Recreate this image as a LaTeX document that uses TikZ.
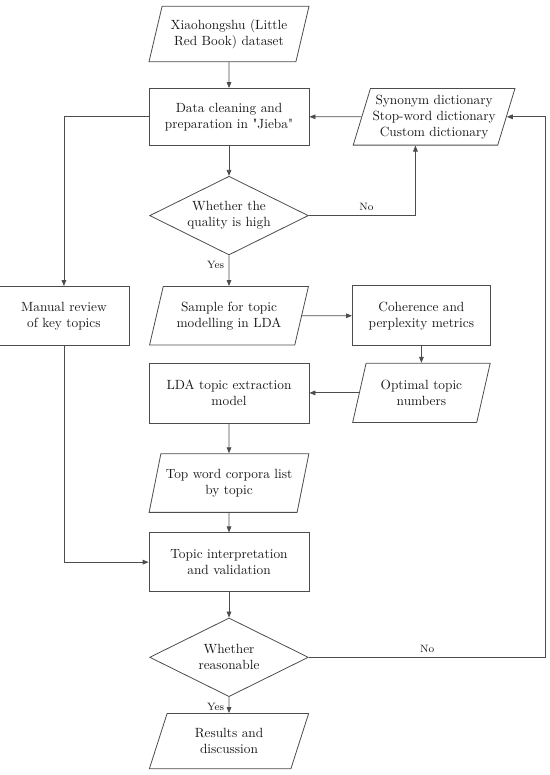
\documentclass[tikz,border=0pt]{standalone}
\usetikzlibrary{arrows.meta,positioning,shapes.geometric}
\newcommand{\dq}{\XeTeXglyph\XeTeXcharglyph"22\relax}

\begin{document}
\begin{tikzpicture}[
  node distance=20pt,
  line/.style={draw=black!70, line width=0.6pt},
  box/.style={line, rectangle, align=center, text=black!90, minimum width=120pt, minimum height=44pt, inner sep=2pt},
  iobox/.style={line, trapezium, trapezium left angle=70, trapezium right angle=110, trapezium stretches=true, align=center, text=black!90, minimum width=120pt, minimum height=44pt, inner sep=1pt},
  decision/.style={line, diamond, aspect=2, align=center, text=black!90, inner sep=0pt, minimum width=119pt, minimum height=59pt},
  lab/.style={font=\footnotesize, text=black!90},
  >={Triangle[length=4.5pt,width=3.5pt]}
]
  \useasboundingbox (0,0) rectangle (412.5pt,-581.25pt);

  % main column
  \node[iobox, minimum height=41.5pt] (source) at (171.75pt,-25.5pt) {Xiaohongshu (Little\\ Red Book) dataset};
  \node[box, minimum height=42.5pt, below=19.5pt of source] (clean) {Data cleaning and\\ preparation in \dq Jieba\dq};
  \node[decision, below=22.75pt of clean] (quality) {Whether the\\ quality is high};
  \node[iobox, below=23pt of quality] (sample) {Sample for topic\\ modelling in LDA};
  \node[box, minimum height=45pt, below=13pt of sample] (lda) {LDA topic extraction\\ model};
  \node[iobox, below=22.25pt of lda] (words) {Top word corpora list\\ by topic};
  \node[box, below=14.75pt of words] (interp) {Topic interpretation\\ and validation};
  \node[decision, below=19.25pt of interp] (reason) {Whether\\ reasonable};
  \node[iobox, minimum height=41.5pt, below=12pt of reason] (results) {Results and\\ discussion};

  % side nodes
  \node[iobox, minimum width=121.5pt, minimum height=42.5pt, right=39pt of clean] (dict) {Synonym dictionary\\ Stop-word dictionary\\ Custom dictionary};
  \node[box, minimum width=97.5pt, left=20pt of sample] (manual) {Manual review\\ of key topics};
  \node[box, minimum width=103.5pt, minimum height=45pt, right=37.5pt of sample] (metrics) {Coherence and\\ perplexity metrics};
  \node[iobox, minimum width=103.5pt, minimum height=44.5pt, below=12.5pt of metrics] (optimal) {Optimal topic\\ numbers};
  \coordinate[right=29.25pt of dict.east] (turn);

  \draw[line, ->] (source) -- (clean);
  \draw[line, ->] (dict) -- (clean);
  \draw[line, ->] (clean) -- (quality);
  \draw[line, ->] (quality.east) -| node[lab, pos=0.27, above]{No} ([xshift=-14pt]dict.south);
  \draw[line, ->] (quality) -- node[lab, pos=0.3, left]{Yes} (sample);
  \draw[line, ->] (clean.west) -| (manual.north);
  \draw[line, ->] (sample) -- (metrics);
  \draw[line, ->] (metrics) -- (optimal);
  \draw[line, ->] (optimal.west) -- (optimal.west -| lda.east);
  \draw[line, ->] (lda) -- (words);
  \draw[line, ->] (words) -- (interp);
  \draw[line, ->] (manual.south) |- (interp.west);
  \draw[line, ->] (interp) -- (reason);
  \draw[line, ->] (reason) -- node[lab, pos=0.6, left]{Yes} (results);
  \draw[line, ->] (reason.east) -| node[lab, pos=0.25, above]{No} (turn) -- (dict.east);
\end{tikzpicture}
\end{document}
